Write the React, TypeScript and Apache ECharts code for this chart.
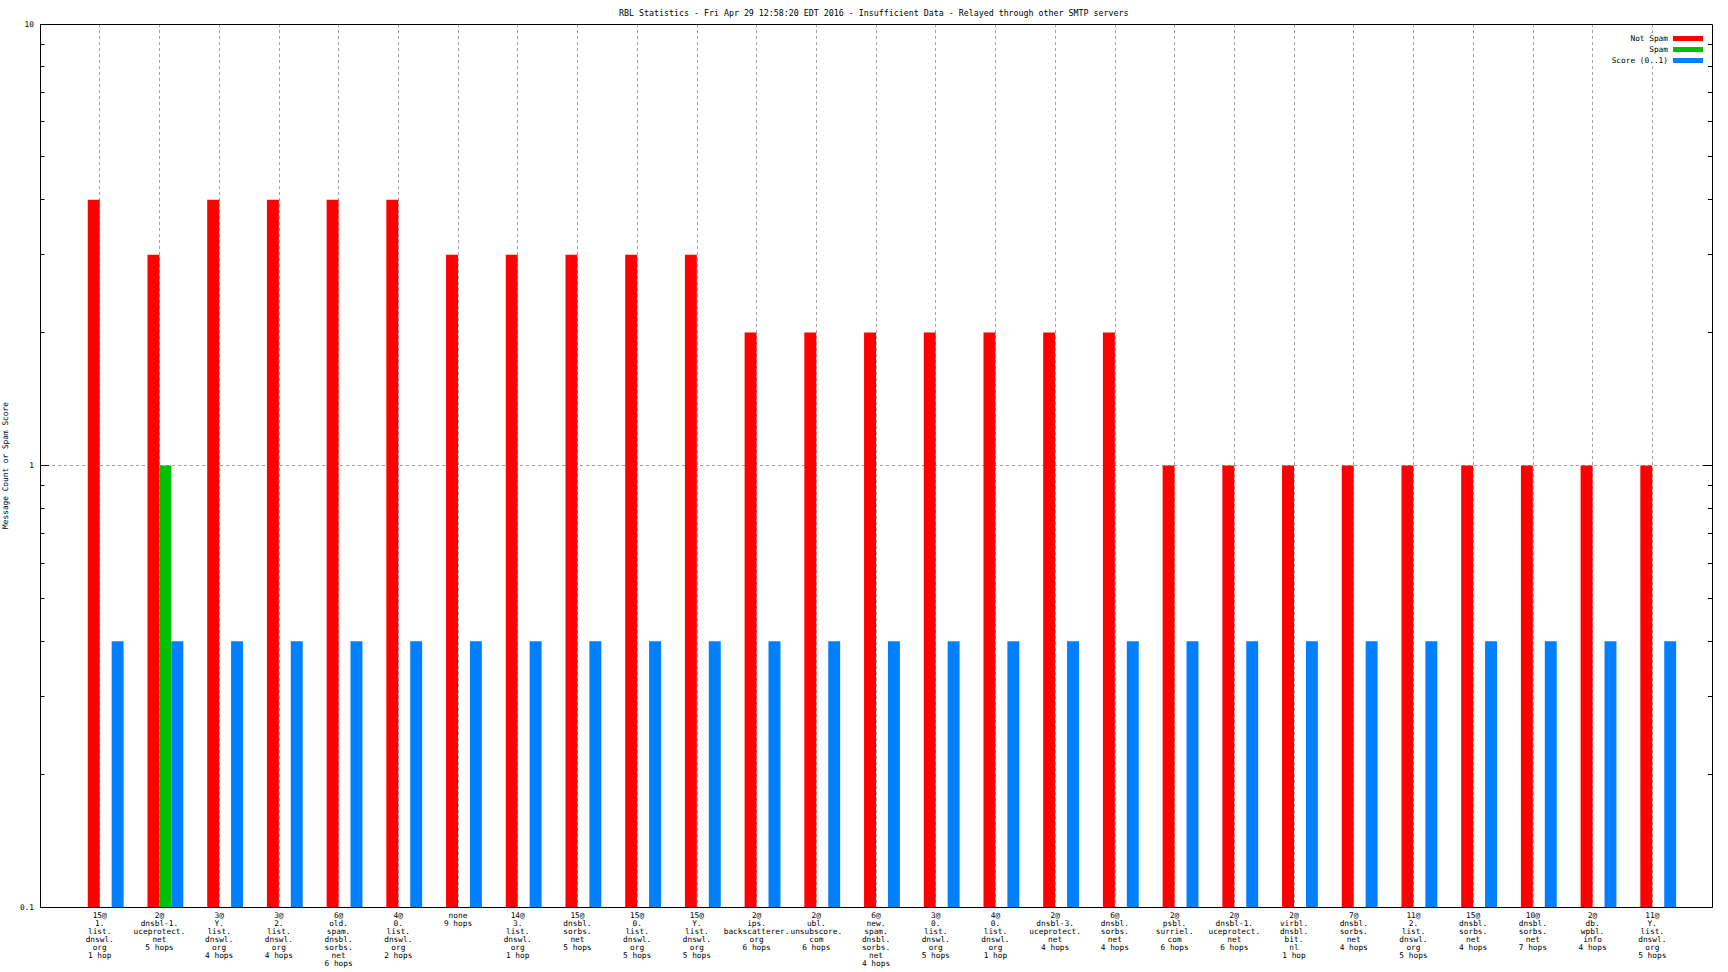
import React, { useEffect, useRef } from 'react';
import * as echarts from 'echarts';

const titleText = 'RBL Statistics - Fri Apr 29 12:58:20 EDT 2016 - Insufficient Data - Relayed through other SMTP servers';
const yAxisName = 'Message Count or Spam Score';

const categories = [
  '15@\n1.\nlist.\ndnswl.\norg\n1 hop',
  '2@\ndnsbl-1.\nuceprotect.\nnet\n5 hops',
  '3@\nY.\nlist.\ndnswl.\norg\n4 hops',
  '3@\n2.\nlist.\ndnswl.\norg\n4 hops',
  '6@\nold.\nspam.\ndnsbl.\nsorbs.\nnet\n6 hops',
  '4@\n0.\nlist.\ndnswl.\norg\n2 hops',
  'none\n9 hops',
  '14@\n3.\nlist.\ndnswl.\norg\n1 hop',
  '15@\ndnsbl.\nsorbs.\nnet\n5 hops',
  '15@\n0.\nlist.\ndnswl.\norg\n5 hops',
  '15@\nY.\nlist.\ndnswl.\norg\n5 hops',
  '2@\nips.\nbackscatterer.\norg\n6 hops',
  '2@\nubl.\nunsubscore.\ncom\n6 hops',
  '6@\nnew.\nspam.\ndnsbl.\nsorbs.\nnet\n4 hops',
  '3@\n0.\nlist.\ndnswl.\norg\n5 hops',
  '4@\n0.\nlist.\ndnswl.\norg\n1 hop',
  '2@\ndnsbl-3.\nuceprotect.\nnet\n4 hops',
  '6@\ndnsbl.\nsorbs.\nnet\n4 hops',
  '2@\npsbl.\nsurriel.\ncom\n6 hops',
  '2@\ndnsbl-1.\nuceprotect.\nnet\n6 hops',
  '2@\nvirbl.\ndnsbl.\nbit.\nnl\n1 hop',
  '7@\ndnsbl.\nsorbs.\nnet\n4 hops',
  '11@\n2.\nlist.\ndnswl.\norg\n5 hops',
  '15@\ndnsbl.\nsorbs.\nnet\n4 hops',
  '10@\ndnsbl.\nsorbs.\nnet\n7 hops',
  '2@\ndb.\nwpbl.\ninfo\n4 hops',
  '11@\nY.\nlist.\ndnswl.\norg\n5 hops',
];

const notSpam = [4, 3, 4, 4, 4, 4, 3, 3, 3, 3, 3, 2, 2, 2, 2, 2, 2, 2, 1, 1, 1, 1, 1, 1, 1, 1, 1];
const spam = [0, 1, 0, 0, 0, 0, 0, 0, 0, 0, 0, 0, 0, 0, 0, 0, 0, 0, 0, 0, 0, 0, 0, 0, 0, 0, 0];
const score = [0.4, 0.4, 0.4, 0.4, 0.4, 0.4, 0.4, 0.4, 0.4, 0.4, 0.4, 0.4, 0.4, 0.4, 0.4, 0.4, 0.4, 0.4, 0.4, 0.4, 0.4, 0.4, 0.4, 0.4, 0.4, 0.4, 0.4];

const seriesNames = ['Not Spam', 'Spam', 'Score (0..1)'];
const seriesColors = ['#ff0000', '#00c000', '#0080ff'];

const yMin = 0.1;
const yMax = 10;
const minorTickValues = [0.2, 0.3, 0.4, 0.5, 0.6, 0.7, 0.8, 0.9, 2, 3, 4, 5, 6, 7, 8, 9];

const FONT = 'DejaVu Sans Mono';
const FS = 7.8;

// category slots padded with empty ends so ticks sit at 1..27 within a 0..28 range
const xSlots = ['', ...categories, ''];

function barSeries(name: string, values: number[], color: string, offset: number) {
  return {
    type: 'custom',
    name,
    z: 3,
    silent: true,
    data: values.map((v, i) => [i + 1, v]).filter((d) => d[1] > yMin),
    renderItem: (params: any, api: any) => {
      const idx = api.value(0);
      const v = api.value(1);
      const top = api.coord([idx, v]);
      const base = api.coord([idx, yMin]);
      const u = api.size([1, 0])[0];
      const w = u * 0.2;
      return {
        type: 'rect',
        shape: { x: top[0] + offset * w, y: top[1], width: w, height: base[1] - top[1] },
        style: { fill: color },
      };
    },
  };
}

export default function App() {
  const ref = useRef<HTMLDivElement>(null);
  useEffect(() => {
    if (!ref.current) return;
    const chart = echarts.init(ref.current, undefined, { renderer: 'svg' });
    const gridLeft = 40, gridTop = 24, gridRight = 16, gridBottom = 65;
    const W = 1728, H = 972;
    const option: any = {
      animation: false,
      backgroundColor: '#ffffff',
      title: {
        text: titleText,
        left: 619,
        top: 8,
        padding: 0,
        textStyle: { fontFamily: FONT, fontSize: 8.3, fontWeight: 'normal', color: '#000', lineHeight: 9 },
      },
      legend: {
        data: seriesNames.map((n, i) => ({ name: n, icon: 'rect', itemStyle: { color: seriesColors[i] } })),
        orient: 'vertical',
        right: 21,
        top: 33,
        align: 'right',
        itemWidth: 30,
        itemHeight: 5,
        itemGap: 0,
        padding: [0, 4, 0, 18],
        backgroundColor: '#ffffff',
        selectedMode: false,
        textStyle: { fontFamily: FONT, fontSize: FS, lineHeight: 11, color: '#000' },
        z: 8,
      },
      grid: {
        left: gridLeft,
        top: gridTop,
        right: gridRight,
        bottom: gridBottom,
        containLabel: false,
        outerBoundsMode: 'none',
      },
      xAxis: [
        {
          type: 'category',
          data: xSlots,
          boundaryGap: false,
          axisLine: { show: false },
          axisTick: { show: false },
          axisLabel: {
            interval: 0,
            fontFamily: FONT,
            fontSize: FS,
            lineHeight: 8,
            color: '#000',
            margin: 4,
            align: 'center',
          },
          splitLine: {
            show: true,
            interval: (index: number) => index > 0 && index < xSlots.length - 1,
            lineStyle: { color: '#a0a0a0', type: [3, 3], width: 1 },
          },
        },
      ],
      yAxis: [
        {
          type: 'log',
          logBase: 10,
          min: yMin,
          max: yMax,
          position: 'left',
          name: yAxisName,
          nameLocation: 'middle',
          nameRotate: 90,
          nameGap: 29,
          nameTextStyle: { fontFamily: FONT, fontSize: FS, color: '#000' },
          axisLine: { show: false },
          axisTick: { show: true, inside: true, length: 9, lineStyle: { color: '#000' } },
          axisLabel: { fontFamily: FONT, fontSize: FS, color: '#000', margin: 6 },
          splitLine: { show: true, lineStyle: { color: '#a0a0a0', type: [3, 3], width: 1 } },
        },
        {
          type: 'log',
          logBase: 10,
          min: yMin,
          max: yMax,
          position: 'right',
          axisLine: { show: false },
          axisTick: { show: true, inside: true, length: 9, lineStyle: { color: '#000' } },
          axisLabel: { show: false },
          splitLine: { show: false },
        },
      ],
      graphic: [
        {
          type: 'rect',
          z: 100,
          silent: true,
          shape: { x: gridLeft + 0.5, y: gridTop + 0.5, width: W - gridLeft - gridRight, height: H - gridTop - gridBottom },
          style: { fill: null, stroke: '#000', lineWidth: 1 },
        },
      ],
      series: [
        barSeries(seriesNames[0], notSpam, seriesColors[0], -1),
        barSeries(seriesNames[1], spam, seriesColors[1], 0),
        barSeries(seriesNames[2], score, seriesColors[2], 1),
        {
          type: 'custom',
          name: 'minorTicks',
          z: 6,
          silent: true,
          data: minorTickValues.map((v) => [0, v]),
          renderItem: (params: any, api: any) => {
            const cs = params.coordSys;
            const y = Math.floor(api.coord([0, api.value(1)])[1]) + 0.5;
            return {
              type: 'group',
              children: [
                { type: 'line', shape: { x1: cs.x, y1: y, x2: cs.x + 4.5, y2: y }, style: { stroke: '#000', lineWidth: 1 } },
                { type: 'line', shape: { x1: cs.x + cs.width - 4, y1: y, x2: cs.x + cs.width, y2: y }, style: { stroke: '#000', lineWidth: 1 } },
              ],
            };
          },
        },
      ],
    };
    chart.setOption(option);
    return () => chart.dispose();
  }, []);
  return <div ref={ref} style={{ position: 'fixed', left: 0, top: 0, width: 1728, height: 972 }} />;
}
